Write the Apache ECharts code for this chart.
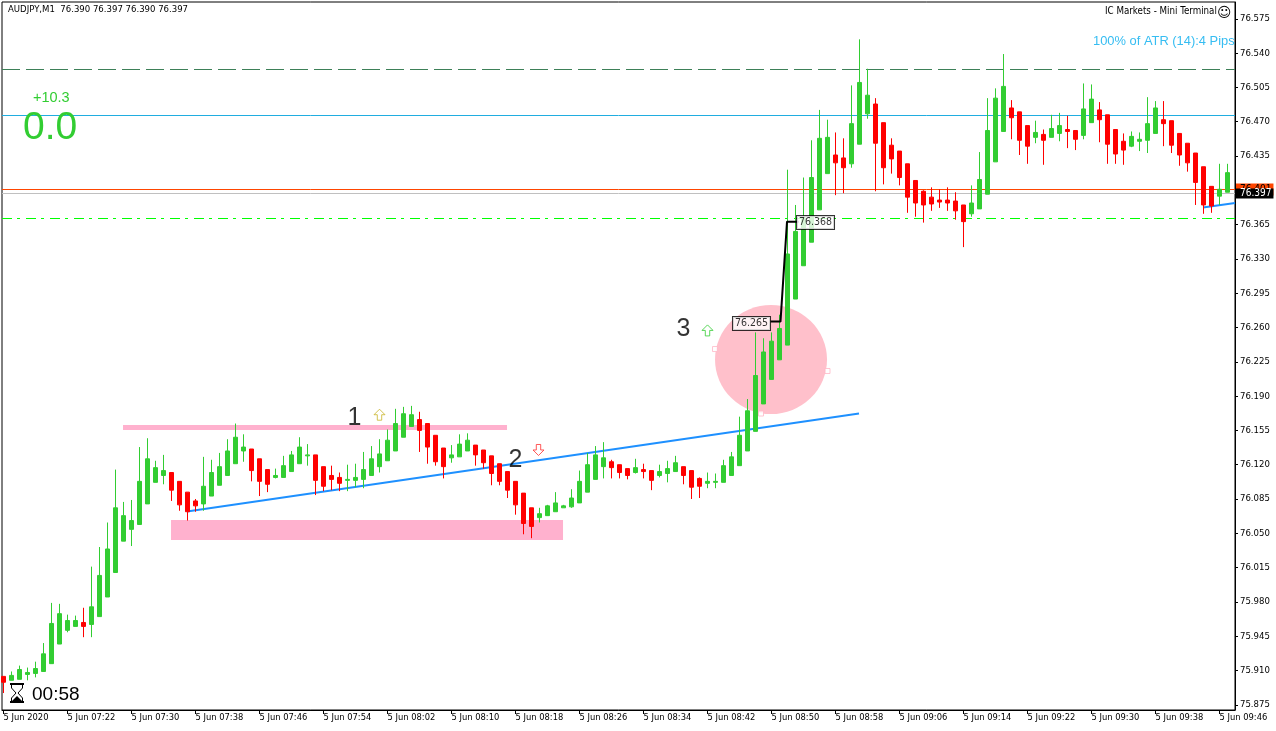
<!DOCTYPE html>
<html>
<head>
<meta charset="utf-8">
<style>html,body{margin:0;padding:0;background:#fff}#c{width:1276px;height:731px}</style>
<script src="https://cdn.jsdelivr.net/npm/echarts@6/dist/echarts.min.js"></script>
</head>
<body>
<div id="c"></div>
<script>
const opens = [75.903,75.899,75.900,75.905,75.906,75.908,75.916,75.936,75.950,75.954,
75.958,75.956,75.964,75.984,76.009,76.041,76.053,76.058,76.079,76.101,
76.108,76.111,76.102,76.091,76.082,76.079,76.087,76.098,76.108,76.120,
76.133,76.135,76.125,76.114,76.106,76.106,76.112,76.120,76.128,76.129,
76.117,76.108,76.106,76.103,76.103,76.104,76.108,76.117,76.123,76.133,
76.147,76.158,76.165,76.161,76.149,76.136,76.126,76.127,76.133,76.139,
76.134,76.128,76.120,76.112,76.102,76.090,76.075,76.065,76.067,76.071,
76.075,76.076,76.080,76.091,76.104,76.117,76.122,76.119,76.115,76.111,
76.114,76.113,76.108,76.110,76.112,76.117,76.113,76.105,76.100,76.101,
76.101,76.108,76.118,76.133,76.153,76.181,76.206,76.226,76.241,76.288,
76.322,76.346,76.379,76.416,76.435,76.432,76.426,76.446,76.477,76.487,
76.468,76.445,76.439,76.426,76.409,76.398,76.392,76.389,76.389,76.388,
76.384,76.375,76.380,76.395,76.428,76.459,76.483,76.479,76.465,76.453,
76.456,76.453,76.457,76.461,76.460,76.455,76.468,76.481,76.476,76.461,
76.449,76.444,76.449,76.450,76.457,76.471,76.470,76.457,76.447,76.437,
76.423,76.403,76.393,76.397];
const closes = [75.897,75.904,75.910,75.907,75.911,75.926,75.957,75.967,75.960,75.960,
75.954,75.974,76.006,76.033,76.075,76.067,76.062,76.102,76.125,76.116,
76.113,76.093,76.078,76.071,76.077,76.097,76.111,76.117,76.133,76.147,
76.137,76.113,76.102,76.099,76.108,76.118,76.129,76.137,76.129,76.103,
76.097,76.104,76.100,76.104,76.106,76.114,76.125,76.130,76.144,76.161,
76.171,76.170,76.154,76.137,76.122,76.117,76.129,76.140,76.144,76.129,
76.121,76.110,76.102,76.093,76.078,76.059,76.056,76.069,76.077,76.080,
76.077,76.085,76.102,76.119,76.129,76.126,76.116,76.111,76.108,76.116,
76.112,76.103,76.112,76.115,76.121,76.108,76.096,76.097,76.102,76.102,
76.118,76.127,76.149,76.174,76.210,76.234,76.245,76.258,76.334,76.357,
76.371,76.412,76.452,76.453,76.427,76.422,76.467,76.509,76.496,76.447,
76.422,76.431,76.412,76.392,76.386,76.384,76.385,76.387,76.386,76.378,
76.367,76.386,76.410,76.460,76.493,76.505,76.473,76.450,76.444,76.458,
76.450,76.462,76.465,76.459,76.451,76.482,76.492,76.471,76.446,76.436,
76.440,76.454,76.451,76.467,76.483,76.467,76.445,76.435,76.427,76.407,
76.384,76.383,76.400,76.417];
const lows = [75.886,75.899,75.900,75.899,75.902,75.908,75.916,75.936,75.948,75.954,
75.943,75.943,75.964,75.984,76.009,76.041,76.036,76.058,76.079,76.101,
76.099,76.082,76.072,76.062,76.071,76.072,76.087,76.098,76.108,76.120,
76.122,76.102,76.087,76.091,76.105,76.106,76.112,76.120,76.118,76.088,
76.092,76.093,76.092,76.092,76.096,76.095,76.108,76.111,76.123,76.133,
76.147,76.158,76.132,76.120,76.118,76.105,76.121,76.127,76.133,76.118,
76.115,76.098,76.098,76.085,76.068,76.048,76.044,76.060,76.067,76.071,
76.075,76.075,76.080,76.091,76.104,76.105,76.105,76.105,76.104,76.110,
76.105,76.093,76.106,76.101,76.112,76.099,76.084,76.085,76.095,76.095,
76.101,76.108,76.118,76.133,76.153,76.181,76.206,76.226,76.241,76.288,
76.322,76.346,76.379,76.416,76.394,76.396,76.422,76.446,76.472,76.398,
76.405,76.416,76.404,76.376,76.372,76.366,76.378,76.381,76.378,76.369,
76.341,76.372,76.380,76.395,76.428,76.459,76.451,76.435,76.426,76.447,
76.425,76.453,76.449,76.442,76.440,76.451,76.468,76.448,76.426,76.426,
76.425,76.443,76.439,76.437,76.457,76.444,76.437,76.424,76.418,76.384,
76.375,76.376,76.384,76.397];
const highs = [75.903,75.908,75.914,75.912,75.918,75.937,75.978,75.977,75.966,75.965,
75.973,76.015,76.035,76.060,76.114,76.081,76.083,76.137,76.146,76.123,
76.129,76.111,76.102,76.091,76.084,76.127,76.124,76.131,76.145,76.161,
76.150,76.135,76.125,76.114,76.115,76.128,76.133,76.147,76.140,76.129,
76.117,76.118,76.111,76.119,76.120,76.132,76.138,76.145,76.155,76.176,
76.178,76.179,76.173,76.161,76.149,76.136,76.139,76.150,76.151,76.139,
76.134,76.128,76.120,76.112,76.102,76.090,76.075,76.075,76.078,76.091,
76.078,76.094,76.113,76.131,76.138,76.142,76.124,76.119,76.115,76.125,
76.120,76.113,76.119,76.123,76.128,76.117,76.113,76.106,76.111,76.110,
76.124,76.132,76.168,76.186,76.254,76.248,76.254,76.272,76.420,76.384,
76.412,76.450,76.481,76.471,76.458,76.452,76.506,76.553,76.523,76.493,
76.468,76.452,76.439,76.426,76.409,76.399,76.402,76.400,76.402,76.397,
76.384,76.404,76.438,76.493,76.503,76.538,76.491,76.479,76.465,76.470,
76.461,76.476,76.478,76.475,76.460,76.508,76.507,76.489,76.476,76.461,
76.457,76.459,76.458,76.494,76.490,76.490,76.470,76.457,76.447,76.437,
76.423,76.403,76.426,76.426];
const readingCalibration = 0.001;

const timeLabels = ['5 Jun 2020','5 Jun 07:22','5 Jun 07:30','5 Jun 07:38','5 Jun 07:46','5 Jun 07:54','5 Jun 08:02','5 Jun 08:10','5 Jun 08:18','5 Jun 08:26','5 Jun 08:34','5 Jun 08:42','5 Jun 08:50','5 Jun 08:58','5 Jun 09:06','5 Jun 09:14','5 Jun 09:22','5 Jun 09:30','5 Jun 09:38','5 Jun 09:46'];
const timeTicks = [0,8,16,24,32,40,48,56,64,72,80,88,96,104,112,120,128,136,144,152];
const priceTicks = [76.575,76.540,76.505,76.470,76.435,76.400,76.365,76.330,76.295,76.260,76.225,76.190,76.155,76.120,76.085,76.050,76.015,75.980,75.945,75.910,75.875];

const dashedLevel = 76.5232, blueLevel = 76.4763, askLevel = 76.4008, bidLevel = 76.3967, signalLevel = 76.3712;
const trendA = [[22.94,76.0722],[106.94,76.1722]];
const trendB = [[149.94,76.3824],[153.94,76.387]];
const zoneTop = [[14.94,76.1605],[62.94,76.1554]];
const zoneBottom = [[20.94,76.0635],[69.94,76.0431]];
const circleCentre = [95.94,76.2273];
const circleHandles = [[88.94,76.238],[103,76.2156],[94.69,76.1722]];
const stepLine = [[95.875,76.266],[97.125,76.266],[97.94,76.368],[99.375,76.368]];
const numberNotes = [[43.875,76.168,'1'],[64,76.125,'2'],[85,76.258,'3']];
const priceNotes = [[93.5,76.264,'76.265'],[101.5,76.367,'76.368']];
const arrowsUpGold = [[47,76.171]];
const arrowsDownRed = [[66.875,76.135]];
const arrowsUpGreen = [[88,76.257]];

const cal = v => v + readingCalibration;
const candles = opens.map((o,i)=>[i,cal(o),cal(closes[i]),cal(lows[i]),cal(highs[i])]);
const upArrow = 'path://M5,0 L10,5 L7,5 L7,10 L3,10 L3,5 L0,5 Z';
const downArrow = 'path://M3,0 L7,0 L7,5 L10,5 L5,10 L0,5 L3,5 Z';
const FONT = '"Liberation Sans", Arial, sans-serif';
const UIFONT = '"DejaVu Sans Condensed", "DejaVu Sans", sans-serif';
const hLine = (y,color,type,label)=>({yAxis:y,lineStyle:{color,type,width:1,opacity:1},label});
const chart = echarts.init(document.getElementById('c'),null,{renderer:'canvas'});
function arrow(data,symbol,color){
  return {type:'scatter',data,symbol,symbolSize:[11,11],z:6,silent:true,
    itemStyle:{color:'#fff',borderColor:color,borderWidth:1}};
}
const poly = (points,extra)=>({type:'polyline',z:20,shape:{points},style:Object.assign({stroke:'#000',lineWidth:1,fill:null},extra||{})});
chart.setOption({
  animation:false,
  backgroundColor:'#fff',
  grid:{left:2,top:2,right:41,bottom:21,show:true,backgroundColor:'#fff',borderColor:'#000',borderWidth:1,containLabel:false},
  tooltip:{show:false},
  xAxis:{type:'value',min:-0.1875,max:153.9375,splitLine:{show:false},
    axisLine:{show:true,lineStyle:{color:'#000'}},
    axisTick:{show:true,length:4,customValues:timeTicks,lineStyle:{color:'#000'}},
    axisLabel:{customValues:timeTicks,align:'left',margin:3,fontSize:9.3,color:'#000',fontFamily:UIFONT,
      formatter:v=>timeLabels[timeTicks.indexOf(v)]}},
  yAxis:{type:'value',position:'right',min:75.8697,max:76.5921,scale:true,splitLine:{show:false},
    axisLine:{show:true,onZero:false,lineStyle:{color:'#000'}},
    axisTick:{show:true,length:3,customValues:priceTicks,lineStyle:{color:'#000'}},
    axisLabel:{customValues:priceTicks,margin:5,fontSize:9.5,color:'#000',fontFamily:UIFONT,
      formatter:v=>v.toFixed(3)}},
  series:[
    {type:'scatter',data:[circleCentre],symbol:'circle',symbolSize:[112,109],z:1,silent:true,
      itemStyle:{color:'#ffc0cb',opacity:1}},
    {type:'scatter',data:circleHandles,symbol:'rect',symbolSize:5,z:1,silent:true,
      itemStyle:{color:'#fff',borderColor:'#ffb6c6',borderWidth:1}},
    {type:'line',data:[],z:1,silent:true,
      markArea:{silent:true,itemStyle:{color:'#ffb1ce',opacity:1},
        data:[[{coord:zoneTop[0]},{coord:zoneTop[1]}],[{coord:zoneBottom[0]},{coord:zoneBottom[1]}]]}},
    {type:'line',data:[],z:2,silent:true,
      markLine:{silent:true,symbol:'none',animation:false,precision:4,
        data:[
          hLine(dashedLevel,'#3d8058',[18,6],{show:false}),
          hLine(blueLevel,'#20ade0','solid',{show:false}),
          hLine(signalLevel,'#00ff00',[10,5,3,6],{show:false}),
          hLine(askLevel,'#ff4500','solid',{show:true,position:'end',distance:1,formatter:'76.401',fontSize:10,fontFamily:UIFONT,color:'#000',backgroundColor:'#ff4500',padding:[1,2,1,4]}),
          hLine(bidLevel,'#c0c0c0','solid',{show:true,position:'end',distance:1,formatter:'76.397',fontSize:10,fontFamily:UIFONT,color:'#fff',backgroundColor:'#000',padding:[0,2,0,4]})
        ]}},
    {type:'line',data:trendA,z:3,symbol:'none',silent:true,lineStyle:{color:'#1e90ff',width:2}},
    {type:'line',data:trendB,z:3,symbol:'none',silent:true,lineStyle:{color:'#1e90ff',width:2}},
    {type:'candlestick',data:candles,encode:{x:0,y:[1,2,3,4]},barWidth:4,z:5,silent:true,
      itemStyle:{color:'#32cd32',color0:'#ff0000',borderColor:'#32cd32',borderColor0:'#ff0000',borderWidth:1}},
    {type:'line',data:stepLine,z:6,symbol:'none',silent:true,lineStyle:{color:'#000',width:2}},
    arrow(arrowsUpGold,upArrow,'#c8b428'),
    arrow(arrowsDownRed,downArrow,'#ff3030'),
    arrow(arrowsUpGreen,upArrow,'#32cd32'),
    {type:'scatter',data:numberNotes,symbolSize:0,z:7,silent:true,
      label:{show:true,position:'inside',formatter:p=>p.data[2],fontSize:25,fontFamily:FONT,color:'#000'}},
    {type:'scatter',data:priceNotes,symbolSize:0,z:7,silent:true,
      label:{show:true,position:'inside',formatter:p=>p.data[2],fontSize:10.5,fontFamily:UIFONT,color:'#000',
        backgroundColor:'#fff',borderColor:'#000',borderWidth:1,padding:[1,2,1,2]}}
  ],
  graphic:[
    {type:'text',left:8,top:5,z:20,style:{text:'AUDJPY,M1  76.390 76.397 76.390 76.397',font:'9.5px '+UIFONT,fill:'#000'}},
    {type:'text',left:1105,top:6,z:20,style:{text:'IC Markets - Mini Terminal',font:'9.7px '+UIFONT,fill:'#000'}},
    {type:'text',left:1217,top:6,z:20,style:{text:'\u263A',font:'14px "DejaVu Sans"',fill:'#000'}},
    {type:'text',left:1093,top:35,z:20,style:{text:'100% of ATR (14):4 Pips',font:'12.9px '+FONT,fill:'#36bdf2'}},
    {type:'text',left:33,top:90,z:20,style:{text:'+10.3',font:'14.5px '+FONT,fill:'#32cd32'}},
    {type:'text',left:23,top:109,z:20,style:{text:'0.0',font:'39px '+FONT,fill:'#32cd32'}},
    {type:'rect',z:20,shape:{x:10,y:683,width:14,height:2},style:{fill:'#000'}},
    {type:'rect',z:20,shape:{x:10,y:701,width:14,height:2},style:{fill:'#000'}},
    poly([[11.5,685],[11.5,688],[16,693],[11.5,698],[11.5,701]]),
    poly([[22.5,685],[22.5,688],[18,693],[22.5,698],[22.5,701]]),
    {type:'polygon',z:20,shape:{points:[[12,701],[17,696],[22,701]]},style:{fill:'#000'}},
    {type:'text',left:32,top:685,z:20,style:{text:'00:58',font:'19px '+FONT,fill:'#000'}}
  ]
});
</script>
</body>
</html>
